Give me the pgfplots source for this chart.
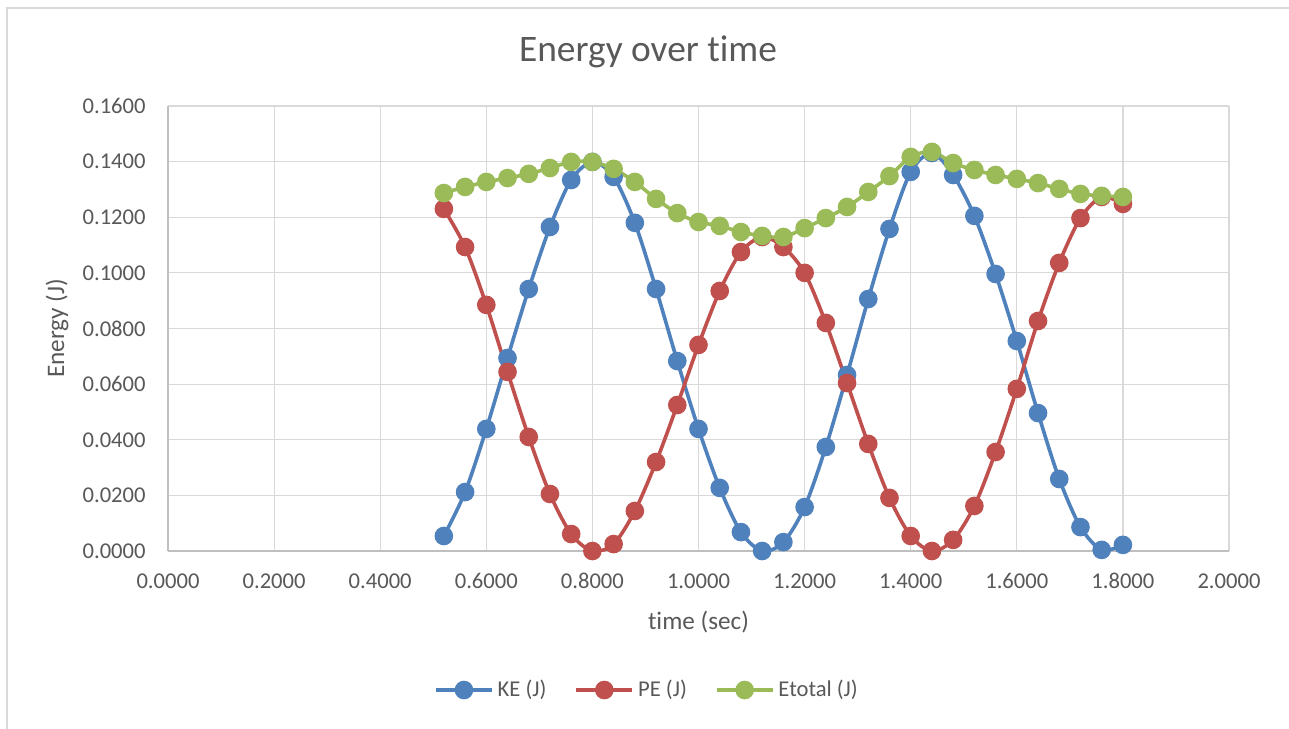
\documentclass[border=0pt]{standalone}
\usepackage{fontspec}
\setmainfont{Carlito}[Ligatures=NoCommon]
\usepackage{pgfplots}
\pgfplotsset{compat=1.18}
\usepackage{pgfplotstable}

\definecolor{keblue}{HTML}{4F81BD}
\definecolor{pered}{HTML}{C0504D}
\definecolor{etgreen}{HTML}{9BBB59}
\definecolor{txtgray}{RGB}{89,89,89}
\definecolor{gridgray}{RGB}{217,217,217}
\definecolor{axgray}{RGB}{191,191,191}

% time (sec), KE (J), PE (J), Etotal (J)
\pgfplotstableread{
t    ke     pe     et
0.52 0.0054 0.1230 0.1287
0.56 0.0212 0.1093 0.1309
0.60 0.0439 0.0885 0.1327
0.64 0.0694 0.0644 0.1341
0.68 0.0942 0.0410 0.1356
0.72 0.1165 0.0205 0.1377
0.76 0.1334 0.0061 0.1399
0.80 0.1399 0.0000 0.1399
0.84 0.1345 0.0025 0.1374
0.88 0.1180 0.0144 0.1327
0.92 0.0942 0.0320 0.1266
0.96 0.0683 0.0525 0.1215
1.00 0.0439 0.0741 0.1183
1.04 0.0227 0.0935 0.1169
1.08 0.0068 0.1075 0.1147
1.12 0.0000 0.1129 0.1133
1.16 0.0032 0.1093 0.1129
1.20 0.0158 0.1000 0.1161
1.24 0.0374 0.0820 0.1197
1.28 0.0633 0.0604 0.1237
1.32 0.0906 0.0385 0.1291
1.36 0.1158 0.0191 0.1348
1.40 0.1363 0.0054 0.1417
1.44 0.1431 0.0000 0.1435
1.48 0.1352 0.0040 0.1395
1.52 0.1205 0.0162 0.1370
1.56 0.0996 0.0356 0.1352
1.60 0.0755 0.0583 0.1338
1.64 0.0496 0.0827 0.1323
1.68 0.0259 0.1036 0.1302
1.72 0.0086 0.1197 0.1284
1.76 0.0004 0.1273 0.1277
1.80 0.0022 0.1248 0.1273
}\energy

\begin{document}
\begin{tikzpicture}
\useasboundingbox (0,0) rectangle (644.5pt,-364pt);
\fill[white] (0,0) rectangle (644.5pt,-364pt);
\draw[gridgray, line width=1pt] (3.5pt,-370pt) -- (3.5pt,-4pt) -- (650pt,-4pt);
\begin{axis}[
    at={(84pt,-53pt)}, anchor=north west,
    scale only axis,
    width=530.5pt, height=222.5pt,
    xmin=0, xmax=2, ymin=0, ymax=0.16,
    xtick={0,0.2,...,2.01},
    ytick={0,0.02,...,0.161},
    major tick length=0pt,
    grid=major,
    grid style={gridgray, line width=0.6pt},
    axis lines*=left,
    axis line style={axgray, line width=0.7pt},
    every axis plot/.append style={line width=1.8pt},
    font=\fontsize{11.3}{13}\selectfont,
    /pgf/number format/assume math mode=true,
    xticklabel={\pgfmathprintnumber[fixed,fixed zerofill,precision=4]{\tick}},
    yticklabel={\pgfmathprintnumber[fixed,fixed zerofill,precision=4]{\tick}},
    tick label style={txtgray, inner sep=0pt},
    xticklabel style={anchor=center, yshift=-15pt},
    yticklabel style={anchor=east, xshift=-11pt},
    scaled ticks=false,
    xlabel={t{}ime (sec)},
    ylabel={Energy (J)},
    label style={txtgray, font=\fontsize{12.6}{15}\selectfont},
    xlabel style={at={(axis description cs:0.5,-0.1596)}, anchor=center},
    ylabel style={at={(axis description cs:-0.1046,0.5)}, anchor=center, rotate=0},
    title={Energy over t{}ime},
    title style={txtgray, font=\fontsize{18.7}{21}\selectfont,
        at={(axis description cs:0.4524,1.0943)}, anchor=center},
    legend columns=3,
    legend style={at={(axis description cs:0.4524,-0.3124)}, anchor=center,
        draw=none, fill=none, text=txtgray, font=\fontsize{11.3}{13}\selectfont,
        /tikz/every even column/.append style={column sep=12pt}},
    legend image code/.code={
        \draw[#1, mark repeat=2, mark phase=2] plot coordinates {(0pt,0pt) (14pt,0pt) (28pt,0pt)};
    },
    mark size=3.75pt,
]
\addplot[keblue, smooth, tension=0.5, mark=*, mark options={fill=keblue, draw=keblue}] table[x=t, y=ke] {\energy};
\addplot[pered, smooth, tension=0.5, mark=*, mark options={fill=pered, draw=pered}] table[x=t, y=pe] {\energy};
\addplot[etgreen, smooth, tension=0.5, mark=*, mark options={fill=etgreen, draw=etgreen}] table[x=t, y=et] {\energy};
\legend{KE (J), PE (J), Et{}otal (J)}
\end{axis}
\end{tikzpicture}
\end{document}
